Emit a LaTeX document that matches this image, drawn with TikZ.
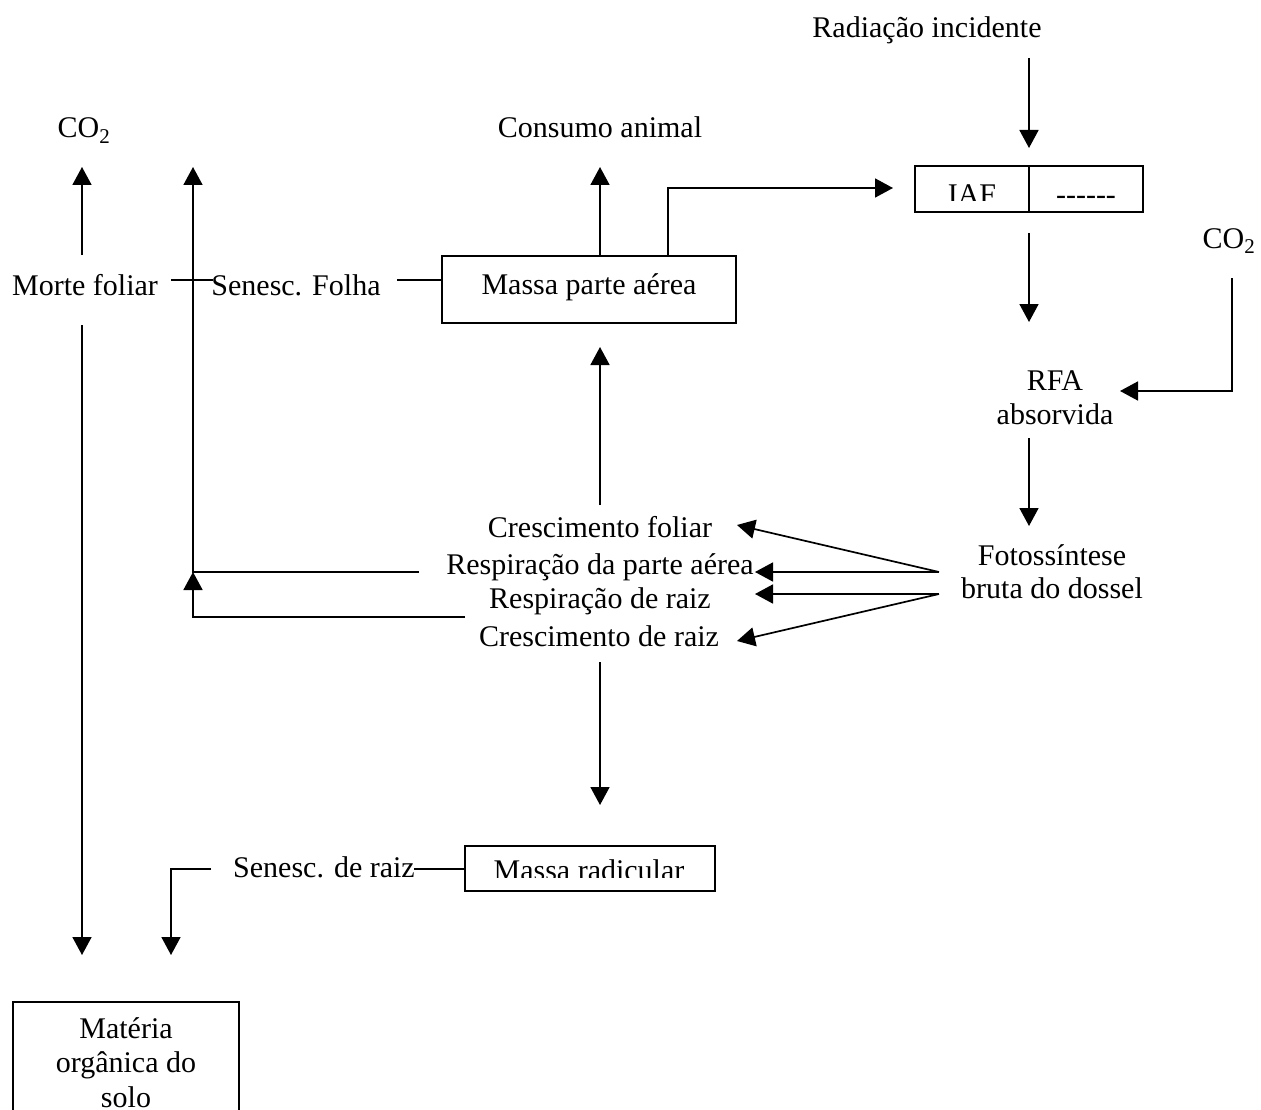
\documentclass[tikz,border=0pt]{standalone}
\usepackage{fontspec}
\setmainfont{Liberation Serif}
\usetikzlibrary{arrows.meta}
\tikzset{
  lbl/.style={inner sep=0pt, font=\fontsize{30}{34}\selectfont},
  ln/.style={line width=1.7pt},
  arr/.style={ln, -{Triangle[length=18pt,width=19pt]}},
  bx/.style={draw, line width=1.7pt, inner sep=0pt, outer sep=0pt}
}
\begin{document}
\begin{tikzpicture}[x=1pt,y=-1pt]
\useasboundingbox (0,0) rectangle (1261,1110);
\clip (0,0) rectangle (1261,1110);

% ---------- boxes ----------
\node[bx, anchor=north west, minimum width=228pt, minimum height=46pt] (iaf) at (915,166) {};
\draw[ln] (iaf.north) -- (iaf.south);
\node[bx, anchor=north west, minimum width=294pt, minimum height=67pt] (mpa) at (442,256) {};
\node[bx, anchor=north west, minimum width=250pt, minimum height=45pt] (mrad) at (465,846) {};
\node[bx, anchor=north west, minimum width=226pt, minimum height=150pt] (mos) at (13,1002) {};

% ---------- texts ----------
\node[lbl, anchor=base] (rad) at (927,38) {Radiação incidente};
\node[lbl, anchor=base] (co2L) at (84,138) {CO\textsubscript{2}};
\node[lbl, anchor=base] (cons) at (600,138) {Consumo animal};
\node[lbl, anchor=base] (co2R) at (1229,248) {CO\textsubscript{2}};
\begin{scope}
  \clip (915,166) rectangle (1143,201);
  \node[lbl, anchor=base] (iaftxt) at (972,205) {IAF};
  \node[lbl, anchor=base] (dashes) at (1086,205) {-\kern0pt-\kern0pt-\kern0pt-\kern0pt-\kern0pt-};
\end{scope}
\node[lbl, anchor=base] (morte) at (85,295) {Morte foliar};
\node[lbl, anchor=base] (senf) at (296,295) {Senesc. Folha};
\node[lbl, anchor=base] (mpatxt) at (589,294) {Massa parte aérea};
\node[lbl, anchor=base] (rfa) at (1055,390) {RFA};
\node[lbl, anchor=base] (absv) at (1055,424) {absorvida};
\node[lbl, anchor=base] (foto) at (1052,565) {Fotossíntese};
\node[lbl, anchor=base] (bruta) at (1052,598) {bruta do dossel};
\node[lbl, anchor=base] (cf) at (600,537) {Crescimento foliar};
\node[lbl, anchor=base] (rpa) at (600,574) {Respiração da parte aérea};
\node[lbl, anchor=base] (rr) at (600,608) {Respiração de raiz};
\node[lbl, anchor=base] (cr) at (599,646) {Crescimento de raiz};
\node[lbl, anchor=base] (senr) at (324,877) {Senesc. de raiz};
\begin{scope}
  \clip (465,846) rectangle (715,877);
  \node[lbl, anchor=base] (mradtxt) at (589,880) {Massa radicular};
\end{scope}
\node[lbl, anchor=base] (mat) at (126,1038) {Matéria};
\node[lbl, anchor=base] (org) at (126,1072) {orgânica do};
\node[lbl, anchor=base] (solo) at (126,1107) {solo};

% ---------- coordinates ----------
\coordinate (radB) at (1029,58);   \coordinate (iafT) at (1029,148);
\coordinate (iafB) at (1029,233);  \coordinate (rfaT) at (1029,322);
\coordinate (rfaB) at (1029,438);  \coordinate (fotoT) at (1029,526);
\coordinate (co2RB) at (1232,278); \coordinate (co2Rc) at (1232,391);
\coordinate (rfaR) at (1120,391);
\coordinate (mpaC) at (600,256);   \coordinate (consB) at (600,167);
\coordinate (mpaI) at (668,256);   \coordinate (iafK) at (668,188);
\coordinate (iafL) at (893,188);
\coordinate (mfU) at (82,255);     \coordinate (co2LB) at (82,167);
\coordinate (mfD) at (82,325);     \coordinate (mosA) at (82,955);
\coordinate (mfR) at (171,280);    \coordinate (sfL) at (213,280);
\coordinate (sfR) at (397,280);
\coordinate (rTop) at (193,167);
\coordinate (rpaL) at (419,572);   \coordinate (rrL) at (465,617);
\coordinate (fA) at (939,572);     \coordinate (fB) at (939,594);
\coordinate (cfR) at (737,525);    \coordinate (rpaR) at (755,572);
\coordinate (rrR) at (755,594);    \coordinate (crR) at (737,641);
\coordinate (cfB) at (600,505);    \coordinate (mpaB) at (600,347);
\coordinate (crB) at (600,662);    \coordinate (mradT) at (600,805);
\coordinate (srR) at (414,869);
\coordinate (srL) at (211,869);    \coordinate (srK) at (171,869);
\coordinate (mosB) at (171,955);

% ---------- connectors ----------
\draw[arr] (radB) -- (iafT);
\draw[arr] (iafB) -- (rfaT);
\draw[arr] (rfaB) -- (fotoT);
\draw[arr] (co2RB) -- (co2Rc) -- (rfaR);
\draw[arr] (mpaC) -- (consB);
\draw[arr] (mpaI) -- (iafK) -- (iafL);
\draw[arr] (mfU) -- (co2LB);
\draw[arr] (mfD) -- (mosA);
\draw[ln] (mfR) -- (sfL);
\draw[ln] (sfR) -- (sfR -| mpa.west);
\draw[arr] (rpaL) -- (rpaL -| rTop) -- (rTop);
\draw[arr] (rrL) -- (rrL -| rTop) -- (rpaL -| rTop);
\draw[arr] (fA) -- (cfR);
\draw[arr] (fA) -- (rpaR);
\draw[arr] (fB) -- (rrR);
\draw[arr] (fB) -- (crR);
\draw[arr] (cfB) -- (mpaB);
\draw[arr] (crB) -- (mradT);
\draw[ln] (srR) -- (srR -| mrad.west);
\draw[arr] (srL) -- (srK) -- (mosB);
\end{tikzpicture}
\end{document}
